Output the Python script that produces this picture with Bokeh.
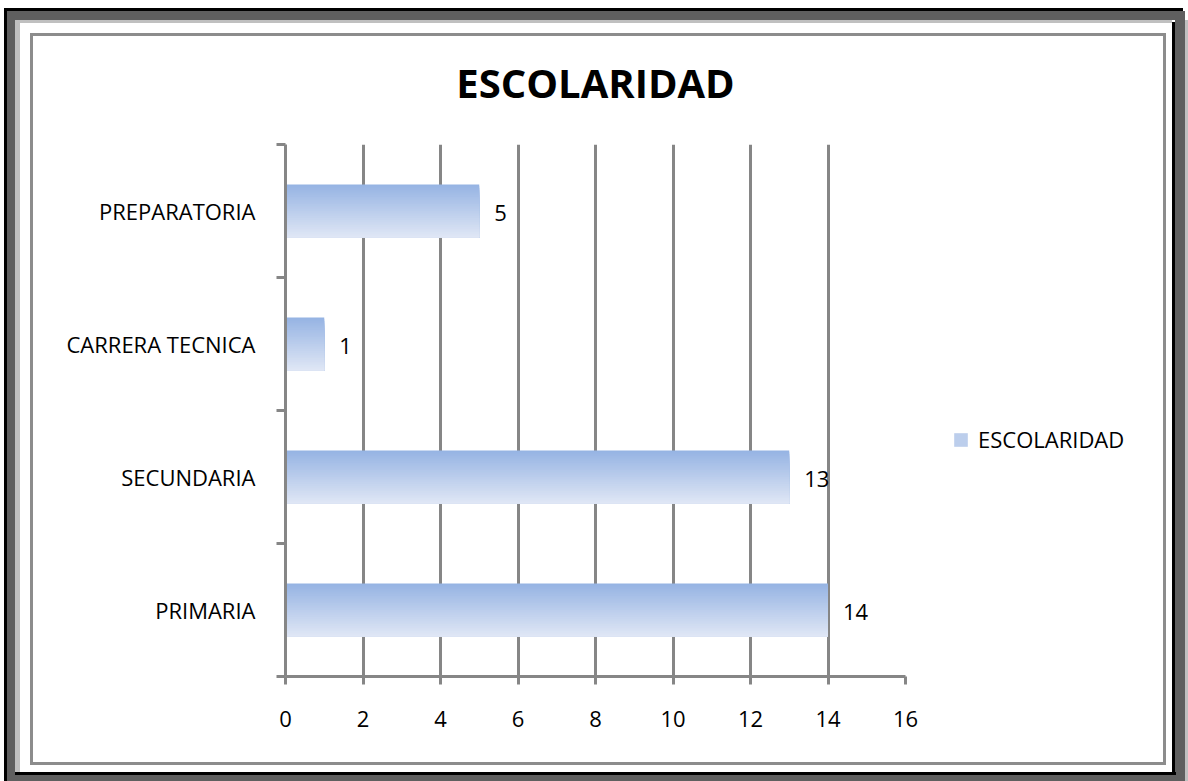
from bokeh.plotting import figure
from bokeh.models import (FixedTicker, Legend, LegendItem, ColumnDataSource,
                          Range1d, Div)
from bokeh.layouts import row
from bokeh.transform import dodge
from bokeh.core.properties import value
from bokeh.embed import file_html
from bokeh.resources import INLINE

# ---- data (bottom to top) ----
categories = ["PRIMARIA", "SECUNDARIA", "CARRERA TECNICA", "PREPARATORIA"]
counts = [14, 13, 1, 5]
x_ticks = [0, 2, 4, 6, 8, 10, 12, 14, 16]
series_name = "ESCOLARIDAD"
title_text = "ESCOLARIDAD"

FONT = "Open Sans"
GRID = "#868686"

ypos = [i + 0.5 for i in range(len(categories))]
src = ColumnDataSource(dict(y=ypos, right=counts, cat=categories,
                            lbl=[str(v) for v in counts]))

p = figure(frame_width=620, frame_height=532, output_backend="svg",
           toolbar_location=None,
           x_range=Range1d(0, 16), y_range=Range1d(0, len(categories)),
           min_border_left=285, min_border_right=0,
           min_border_top=144, min_border_bottom=105,
           background_fill_color="white", border_fill_color="white",
           outline_line_color=None)

# title
p.title.text = title_text
p.title.align = "center"
p.title.text_font = FONT
p.title.text_font_style = "bold"
p.title.text_font_size = "40px"
p.title.text_color = "black"
p.title.standoff = 70

# gradient bars: nested slices, each from its top edge down to the bar bottom
N = 30
bar_h = 0.40
top_c = (149, 179, 227)
bot_c = (224, 231, 245)
mid_renderer = None
for k in range(N):
    t = (k + 0.5) / N
    c = tuple(int(round(top_c[j] + (bot_c[j] - top_c[j]) * t)) for j in range(3))
    col = "#%02x%02x%02x" % c
    h = bar_h * (N - k) / N
    off = bar_h / 2 - k * bar_h / N - h / 2
    r = p.hbar(y=dodge("y", off), right="right", left=0, height=h,
               source=src, fill_color=col, line_color=None)
    if k == N // 2:
        mid_renderer = r

# data labels
p.text(x="right", y="y", text="lbl", source=src, x_offset=15, y_offset=2,
       text_font=value(FONT), text_font_size="22px", text_color="black",
       text_baseline="middle", text_align="left")

# x axis
xa = p.xaxis[0]
xa.ticker = FixedTicker(ticks=x_ticks)
xa.axis_line_color = GRID
xa.axis_line_width = 3
xa.major_tick_line_color = GRID
xa.major_tick_line_width = 3
xa.major_tick_in = 0
xa.major_tick_out = 8
xa.minor_tick_line_color = None
xa.major_label_text_font = FONT
xa.major_label_text_font_size = "22px"
xa.major_label_text_color = "black"
xa.major_label_standoff = 26

# y axis: labels at band centres, ticks at band edges
ya = p.yaxis[0]
ya.ticker = FixedTicker(ticks=ypos, minor_ticks=list(range(len(categories) + 1)))
ya.major_label_overrides = {yv: c for yv, c in zip(ypos, categories)}
ya.axis_line_color = GRID
ya.axis_line_width = 3
ya.major_tick_line_color = None
ya.major_tick_in = 0
ya.major_tick_out = 0
ya.minor_tick_line_color = GRID
ya.minor_tick_line_width = 3
ya.minor_tick_in = 0
ya.minor_tick_out = 9
ya.major_label_text_font = FONT
ya.major_label_text_font_size = "22px"
ya.major_label_text_color = "black"
ya.major_label_standoff = 21

p.xgrid.ticker = FixedTicker(ticks=x_ticks)
p.xgrid.grid_line_color = GRID
p.xgrid.grid_line_width = 3
p.ygrid.grid_line_color = None

# legend
legend = Legend(items=[LegendItem(label=series_name, renderers=[mid_renderer])],
                location=(47, 222), orientation="vertical",
                glyph_width=17, glyph_height=17, label_standoff=9,
                padding=5, margin=0, spacing=0,
                label_text_font=FONT, label_text_font_size="22px",
                label_text_color="black",
                border_line_color=None, background_fill_alpha=0)
p.add_layout(legend, "right")

# decorative outer frame drawn as fixed-position HTML boxes (page pixels)
DG = "#5f5f5f"
LG = "#c0c0c0"
K = "#000000"
frame_boxes = [
    (7, 11, 1185, 20, DG), (7, 11, 15, 781, DG), (1175, 11, 1185, 781, DG),
    (7, 775, 1185, 781, DG),
    (15, 20, 1172, 23, LG), (15, 20, 20, 772, LG), (1185, 20, 1188, 781, LG),
    (4, 8, 1183, 11, K), (4, 8, 7, 781, K), (15, 772, 1176, 775, K),
    (1172, 22, 1175, 775, K),
]
html = "".join(
    f'<div style="position:fixed;left:{l}px;top:{t}px;width:{r - l}px;'
    f'height:{b - t}px;background:{c};pointer-events:none"></div>'
    for (l, t, r, b, c) in frame_boxes)
html += ('<div style="position:fixed;left:30px;top:33px;width:1136px;'
         'height:732px;border:3px solid #8c8c8c;box-sizing:border-box;'
         'pointer-events:none"></div>')
deco = Div(text=html, width=1, height=1)

layout = row(p, deco)
open("out.html", "w").write(file_html(layout, INLINE))
